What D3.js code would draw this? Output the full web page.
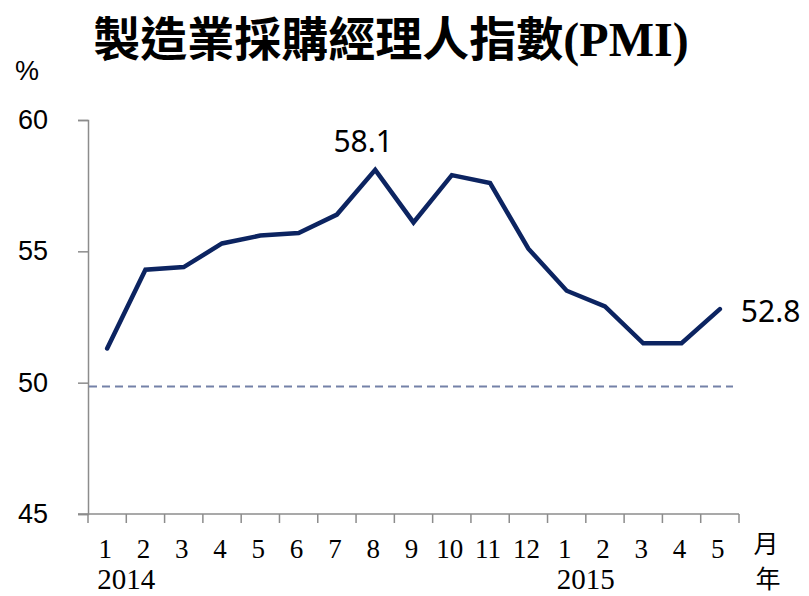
<!DOCTYPE html>
<html>
<head>
<meta charset="utf-8">
<script src="https://cdn.jsdelivr.net/npm/d3@7"></script>
<style>
  body { margin: 0; background: #fff; }
</style>
</head>
<body>
<div id="chart"></div>
<script>
// PMI line chart, 2014/1 - 2015/5

const months = ["1", "2", "3", "4", "5", "6", "7", "8", "9", "10", "11", "12", "1", "2", "3", "4", "5"];
const years = [{ label: "2014", index: 0 }, { label: "2015", index: 12 }];
const pmiValues = [51.3, 54.3, 54.4, 55.3, 55.6, 55.7, 56.4, 58.1, 56.1, 57.9, 57.6, 55.1, 53.5, 52.9, 51.5, 51.5, 52.8];
const yTicks = [45, 50, 55, 60];
const baseline = 49.85;
const labelled = [7, 16];

const width = 809;
const height = 596;

const svg = d3.select("#chart").append("svg")
    .attr("width", width)
    .attr("height", height);

const x = d3.scaleBand()
    .domain(d3.range(months.length))
    .range([88, 739])
    .padding(0);

const y = d3.scaleLinear()
    .domain([45, 60])
    .range([514, 120]);

const cx = i => x(i) + x.bandwidth() / 2;
const axisColor = "#8c8c8c";
const sans = "'Liberation Sans', Arial, sans-serif";
const serif = "'Liberation Serif', 'Times New Roman', serif";
const cjk = "'Noto Sans CJK TC', sans-serif";

// Title
const title = svg.append("text")
    .attr("x", 391)
    .attr("y", 56)
    .attr("text-anchor", "middle")
    .style("font-weight", "bold");
title.append("tspan")
    .style("font-family", cjk)
    .style("font-size", "47px")
    .text("製造業採購經理人指數");
title.append("tspan")
    .style("font-family", serif)
    .style("font-size", "48px")
    .text("(PMI)");

// Unit
svg.append("text")
    .attr("x", 15)
    .attr("y", 80)
    .style("font-family", sans)
    .style("font-size", "27px")
    .text("%");

// Y axis
const yAxis = svg.append("g")
    .attr("transform", "translate(88,0)")
    .call(d3.axisLeft(y).tickValues(yTicks).tickSize(10).tickPadding(30).tickFormat(d3.format("d")));
yAxis.select(".domain").attr("stroke", axisColor).attr("stroke-width", 1.5);
yAxis.selectAll(".tick line").attr("stroke", axisColor).attr("stroke-width", 1.5);
yAxis.selectAll(".tick text")
    .attr("text-anchor", "end")
    .style("font-family", sans)
    .style("font-size", "27px")
    .style("fill", "#000");

// X axis: ticks on band boundaries
const xAxisG = svg.append("g");
xAxisG.append("line")
    .attr("x1", 78)
    .attr("x2", 739)
    .attr("y1", y(45))
    .attr("y2", y(45))
    .attr("stroke", axisColor)
    .attr("stroke-width", 1.5);
xAxisG.selectAll(".xtick")
    .data(d3.range(months.length + 1))
    .enter()
    .append("line")
    .attr("class", "xtick")
    .attr("x1", d => d < months.length ? x(d) : x(months.length - 1) + x.bandwidth())
    .attr("x2", d => d < months.length ? x(d) : x(months.length - 1) + x.bandwidth())
    .attr("y1", y(45))
    .attr("y2", y(45) + 9)
    .attr("stroke", axisColor)
    .attr("stroke-width", 1.5);

xAxisG.selectAll(".xlabel")
    .data(months)
    .enter()
    .append("text")
    .attr("class", "xlabel")
    .attr("x", (d, i) => cx(i) - 2)
    .attr("y", 558)
    .attr("text-anchor", "middle")
    .style("font-family", serif)
    .style("font-size", "27px")
    .text(d => d);

xAxisG.selectAll(".ylabel")
    .data(years)
    .enter()
    .append("text")
    .attr("class", "ylabel")
    .attr("x", d => cx(d.index) - 10)
    .attr("y", 589)
    .style("font-family", serif)
    .style("font-size", "29px")
    .text(d => d.label);

svg.append("text")
    .attr("x", 766)
    .attr("y", 553)
    .attr("text-anchor", "middle")
    .style("font-family", cjk)
    .style("font-size", "25px")
    .text("月");
svg.append("text")
    .attr("x", 768)
    .attr("y", 588)
    .attr("text-anchor", "middle")
    .style("font-family", cjk)
    .style("font-size", "25px")
    .text("年");

// 50 reference line
svg.append("line")
    .attr("x1", 89)
    .attr("x2", 733)
    .attr("y1", y(baseline))
    .attr("y2", y(baseline))
    .attr("stroke", "#7481a8")
    .attr("stroke-width", 2)
    .attr("stroke-dasharray", "8,5");

// PMI line
const line = d3.line()
    .x((d, i) => cx(i))
    .y(d => y(d));

svg.append("path")
    .datum(pmiValues)
    .attr("d", line)
    .attr("fill", "none")
    .attr("stroke", "#0c2461")
    .attr("stroke-width", 4.5)
    .attr("stroke-linejoin", "miter")
    .attr("stroke-linecap", "round");

// Value labels
svg.append("text")
    .attr("x", cx(labelled[0]) - 12)
    .attr("y", y(pmiValues[labelled[0]]) - 18)
    .attr("text-anchor", "middle")
    .style("font-family", "'Noto Sans', sans-serif")
    .style("font-size", "30px")
    .text(pmiValues[labelled[0]].toFixed(1));

svg.append("text")
    .attr("x", cx(labelled[1]) + 21)
    .attr("y", y(pmiValues[labelled[1]]) + 13)
    .style("font-family", "'Noto Sans', sans-serif")
    .style("font-size", "30px")
    .text(pmiValues[labelled[1]].toFixed(1));
</script>
</body>
</html>
